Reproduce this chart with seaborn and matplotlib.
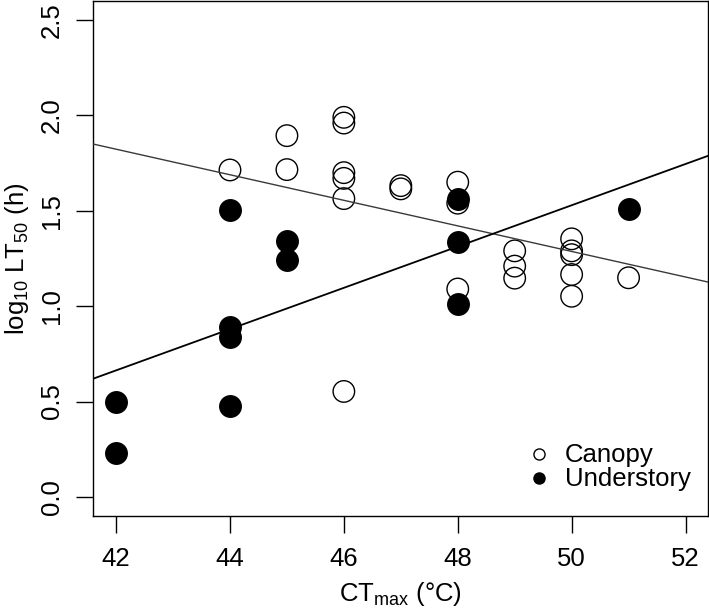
import numpy as np
import pandas as pd
import matplotlib
matplotlib.use("Agg")
import matplotlib.pyplot as plt
from matplotlib.lines import Line2D
import seaborn as sns

# values
canopy_ct = [44, 45, 45, 46, 46, 46, 46, 46, 46, 47, 47, 48, 48, 48,
             49, 49, 49, 50, 50, 50, 50, 50, 51]
canopy_lt = [1.714, 1.894, 1.716, 1.99, 1.96, 1.70, 1.67, 1.564, 0.553, 1.632, 1.615,
             1.65, 1.54, 1.09, 1.29, 1.21, 1.147, 1.353, 1.29, 1.27, 1.166, 1.052, 1.149]
under_ct = [42, 42, 44, 44, 44, 44, 45, 45, 48, 48, 48, 51]
under_lt = [0.50, 0.23, 1.505, 0.89, 0.84, 0.475, 1.344, 1.24, 1.56, 1.335, 1.01, 1.51]

# fitted lines as drawn in the reference (intercept, slope)
canopy_fit = (4.637, -0.0670)
under_fit = (-3.881, 0.1082)

canopy = pd.DataFrame({"CTmax": canopy_ct, "LT50": canopy_lt})
under = pd.DataFrame({"CTmax": under_ct, "LT50": under_lt})

sns.set_style("ticks")
plt.rcParams["font.family"] = ["Liberation Sans", "DejaVu Sans"]
plt.rcParams["font.size"] = 18.5
plt.rcParams["text.color"] = "black"
plt.rcParams["axes.labelcolor"] = "black"
plt.rcParams["xtick.color"] = "black"
plt.rcParams["ytick.color"] = "black"

fig = plt.figure(figsize=(7.09, 6.08), dpi=100)
ax = fig.add_axes([0.1316, 0.1513, 0.8674, 0.8471])

# open circles first, filled on top
sns.scatterplot(data=canopy, x="CTmax", y="LT50", ax=ax, marker="o", s=240,
                facecolor="none", edgecolor="black", linewidth=1.0, zorder=3)
sns.scatterplot(data=under, x="CTmax", y="LT50", ax=ax, marker="o", s=240,
                color="black", edgecolor="black", linewidth=1.0, zorder=4)

b0, b1 = canopy_fit
ax.axline((0, b0), slope=b1, color="#3a3a3a", lw=1.0, zorder=5)
b0, b1 = under_fit
ax.axline((0, b0), slope=b1, color="black", lw=1.3, zorder=5)

ax.set_xlim(41.6, 52.4)
ax.set_ylim(-0.1, 2.6)

ax.set_xticks(np.arange(42, 53, 2))
ax.set_yticks(np.arange(0, 2.51, 0.5))
ax.set_yticklabels([f"{v:.1f}" for v in np.arange(0, 2.51, 0.5)], rotation=90, va="center")
ax.tick_params(axis="both", length=12.2, width=1.0, color="black", labelcolor="black",
               labelsize=18.5)
ax.tick_params(axis="x", pad=10)
ax.tick_params(axis="y", pad=9)
for sp in ax.spines.values():
    sp.set_visible(True)
    sp.set_linewidth(1.0)
    sp.set_color("black")

ax.set_xlabel(r"CT$\mathregular{_{max}}$ (°C)", fontsize=18.5)
ax.set_ylabel(r"log$\mathregular{_{10}}$ LT$\mathregular{_{50}}$ (h)", fontsize=18.5)
ax.xaxis.set_label_coords(0.5, -0.124)
ax.yaxis.set_label_coords(-0.101, 0.5)

handles = [
    Line2D([], [], marker="o", linestyle="none", markersize=8, markerfacecolor="white",
           markeredgecolor="black", markeredgewidth=1.0, label="Canopy"),
    Line2D([], [], marker="o", linestyle="none", markersize=8, markerfacecolor="black",
           markeredgecolor="black", markeredgewidth=1.0, label="Understory"),
]
ax.legend(handles=handles, loc="center left", bbox_to_anchor=(0.7036, 0.0942),
          frameon=False, fontsize=18.5, handlelength=1.0, handletextpad=0.5,
          borderpad=0, borderaxespad=0, labelspacing=0.0)

fig.savefig("out.png", dpi=100)
